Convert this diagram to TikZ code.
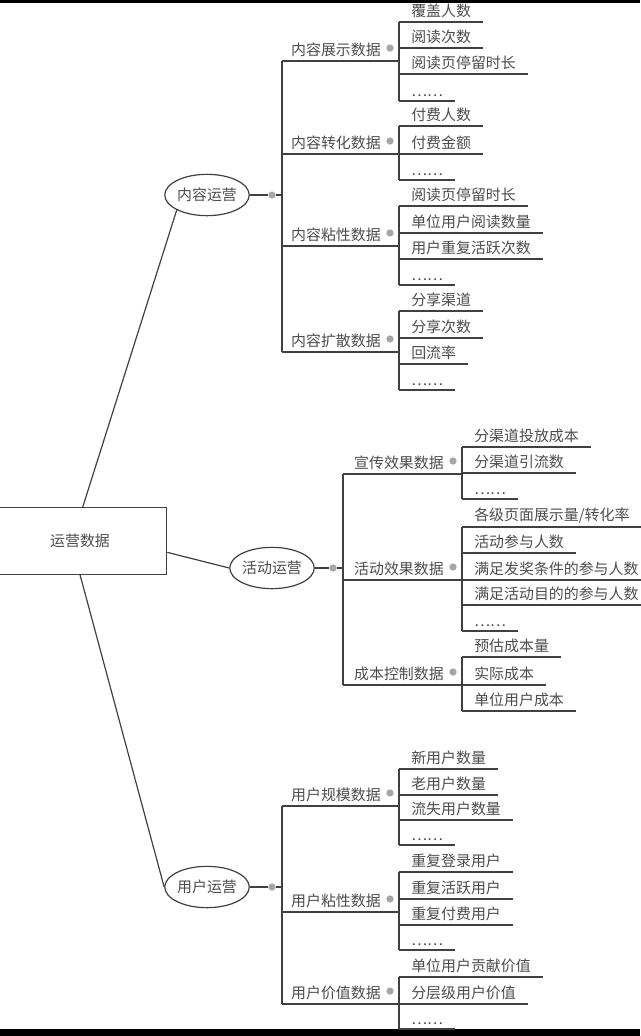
\documentclass[tikz,border=0pt]{standalone}
\usepackage{fontspec}
\newfontfamily\cjk{Noto Sans CJK SC}
\usetikzlibrary{shapes.geometric}
\definecolor{tx}{gray}{0.3}
\definecolor{ln}{gray}{0.25}
\tikzset{
  lnk/.style={draw=ln, line width=0.9pt},
  leaf/.style={anchor=south west, inner xsep=9, inner ysep=3, text=tx, font=\cjk\fontsize{11.2}{13}\selectfont},
  br/.style={anchor=south east, inner xsep=0, inner ysep=3, text=tx, font=\cjk\fontsize{11.2}{13}\selectfont},
  dot/.style={circle, fill=gray!70, inner sep=0, minimum size=5.5},
  oval/.style={ellipse, draw=ln, line width=0.9pt, minimum width=56, minimum height=31, text=tx, inner sep=0, font=\cjk\fontsize{11.2}{13}\selectfont},
  rootbox/.style={rectangle, draw=ln, line width=0.9pt, text=tx, minimum width=130, minimum height=50, inner sep=0, font=\cjk\fontsize{11.2}{13}\selectfont}
}
\newcommand\lf[4]{\node[leaf] (#1) at (#2,#3) {#4}; \draw[lnk] (#1.south west) -- (#1.south east);}
\newcommand\bra[6]{% name, spinex, liney, endx, text, leafspine
  \node[br] (#1) at (#4-18,#3) {#5};
  \node[dot] (#1d) at (#4-9,#3-13) {};
  \draw[lnk] (#2,#3) -- (#4,#3);}
\begin{document}
\begin{tikzpicture}[x=0.75pt,y=-0.75pt]
\useasboundingbox (0,0) rectangle (640,1036);
\fill[black] (0,0) rectangle (640,3);
\fill[black] (0,1029) rectangle (640,1036);
% root
\node[rootbox] (root) at (80,541) {运营数据};
\node[oval] (o1) at (207,195) {内容运营};
\node[oval] (o2) at (272,568) {活动运营};
\node[oval] (o3) at (207,887) {用户运营};
\draw[lnk] ([xshift=67.5]root.north west) -- (o1.south west);
\draw[lnk] ([yshift=-8.5]root.east) -- (o2.west);
\draw[lnk] ([xshift=65.5]root.south west) -- (o3.west);
% dots after ovals
\node[dot] (d1) at (272,195) {};
\node[dot] (d2) at (333,568) {};
\node[dot] (d3) at (272,887) {};
\draw[lnk] (o1.east) -- (d1) -- (282,195);
\draw[lnk] (o2.east) -- (d2) -- (343,568);
\draw[lnk] (o3.east) -- (d3) -- (282,887);
% ===== 内容运营
\draw[lnk] (282,61) -- (282,352);
\bra{a1}{282}{61}{399}{内容展示数据}{}
\lf{a11}{399}{22}{覆盖人数}
\lf{a12}{399}{48}{阅读次数}
\lf{a13}{399}{74}{阅读页停留时长}
\lf{a14}{399}{101}{……}
\draw[lnk] (a11.south west) -- (a14.south west);
\bra{a2}{282}{154}{399}{内容转化数据}{}
\lf{a21}{399}{126}{付费人数}
\lf{a22}{399}{154}{付费金额}
\lf{a23}{399}{180}{……}
\draw[lnk] (a21.south west) -- (a23.south west);
\bra{a3}{282}{246}{399}{内容粘性数据}{}
\lf{a31}{399}{206}{阅读页停留时长}
\lf{a32}{399}{233}{单位用户阅读数量}
\lf{a33}{399}{259}{用户重复活跃次数}
\lf{a34}{399}{285}{……}
\draw[lnk] (a31.south west) -- (a34.south west);
\bra{a4}{282}{352}{399}{内容扩散数据}{}
\lf{a41}{399}{311}{分享渠道}
\lf{a42}{399}{338}{分享次数}
\lf{a43}{399}{364}{回流率}
\lf{a44}{399}{390}{……}
\draw[lnk] (a41.south west) -- (a44.south west);
% ===== 活动运营
\draw[lnk] (343,474) -- (343,685);
\bra{b1}{343}{474}{462}{宣传效果数据}{}
\lf{b11}{462}{447}{分渠道投放成本}
\lf{b12}{462}{473}{分渠道引流数}
\lf{b13}{462}{499}{……}
\draw[lnk] (b11.south west) -- (b13.south west);
\bra{b2}{343}{580}{462}{活动效果数据}{}
\lf{b21}{462}{527}{各级页面展示量/转化率}
\lf{b22}{462}{553}{活动参与人数}
\lf{b23}{462}{580}{满足发奖条件的参与人数}
\lf{b24}{462}{605}{满足活动目的的参与人数}
\lf{b25}{462}{631}{……}
\draw[lnk] (b21.south west) -- (b25.south west);
\bra{b3}{343}{685}{462}{成本控制数据}{}
\lf{b31}{462}{657}{预估成本量}
\lf{b32}{462}{685}{实际成本}
\lf{b33}{462}{711}{单位用户成本}
\draw[lnk] (b31.south west) -- (b33.south west);
% ===== 用户运营
\draw[lnk] (282,806) -- (282,1004);
\bra{c1}{282}{806}{399}{用户规模数据}{}
\lf{c11}{399}{769}{新用户数量}
\lf{c12}{399}{795}{老用户数量}
\lf{c13}{399}{820}{流失用户数量}
\lf{c14}{399}{845}{……}
\draw[lnk] (c11.south west) -- (c14.south west);
\bra{c2}{282}{912}{399}{用户粘性数据}{}
\lf{c21}{399}{872}{重复登录用户}
\lf{c22}{399}{899}{重复活跃用户}
\lf{c23}{399}{925}{重复付费用户}
\lf{c24}{399}{950}{……}
\draw[lnk] (c21.south west) -- (c24.south west);
\bra{c3}{282}{1004}{399}{用户价值数据}{}
\lf{c31}{399}{977}{单位用户贡献价值}
\lf{c32}{399}{1004}{分层级用户价值}
\lf{c33}{399}{1029}{……}
\draw[lnk] (c31.south west) -- (c33.south west);
\end{tikzpicture}
\end{document}
